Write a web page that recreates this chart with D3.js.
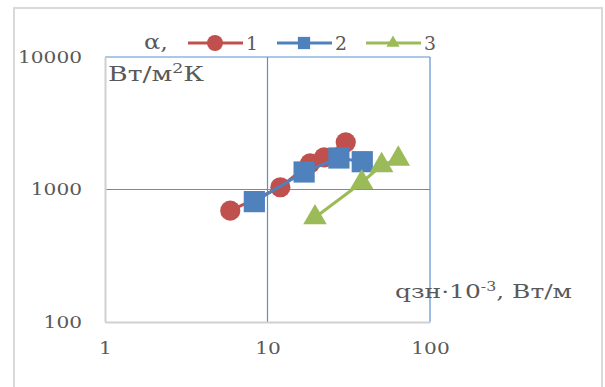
<!DOCTYPE html>
<html>
<head>
<meta charset="utf-8">
<script src="https://cdn.jsdelivr.net/npm/d3@7"></script>
<style>
  body { margin: 0; background: #fff; }
  text { font-family: "DejaVu Serif", "Liberation Serif", serif; }
</style>
</head>
<body>
<script>
// series values (x = qзн·10^-3, y = alpha)
const series1 = [[5.9, 692], [12.0, 1040], [18.3, 1577], [22.3, 1750], [30.3, 2270]];
const series2 = [[8.3, 810], [16.8, 1356], [27.5, 1729], [38.3, 1621]];
const series3 = [[19.6, 615], [38.0, 1130], [50.4, 1520], [63.8, 1700]];
const seriesNames = ["1", "2", "3"];
const xTicks = [1, 10, 100];
const yTicks = [100, 1000, 10000];

const width = 605;
const height = 387;
const margin = { top: 57, right: 175, bottom: 65, left: 105 };
const innerWidth = width - margin.left - margin.right;
const innerHeight = height - margin.top - margin.bottom;

const colors = ["#C0504D", "#4F81BD", "#9BBB59"];
const gridColor = "#5b8fd2";
const textColor = "#595959";
const symbols = [d3.symbolCircle, d3.symbolSquare, d3.symbolTriangle];
const symSizes = [320, 450, 240];
const legendSizes = [200, 150, 75];

const svg = d3.select("body")
    .append("svg")
    .attr("width", width)
    .attr("height", height);

// outer chart frame
svg.append("rect")
    .attr("x", 14).attr("y", 8)
    .attr("width", 588).attr("height", 400)
    .attr("fill", "none")
    .attr("stroke", "#d9d9d9")
    .attr("stroke-width", 2);

const g = svg.append("g")
    .attr("transform", `translate(${margin.left},${margin.top})`);

const xScale = d3.scaleLog().domain([1, 100]).range([0, innerWidth]);
const yScale = d3.scaleLog().domain([100, 10000]).range([innerHeight, 0]);

// gridlines
g.append("g")
    .selectAll("line")
    .data(xTicks.slice(1))
    .enter()
    .append("line")
    .attr("x1", d => xScale(d)).attr("x2", d => xScale(d))
    .attr("y1", 0).attr("y2", innerHeight)
    .attr("stroke", gridColor).attr("stroke-width", 1.2);

g.append("g")
    .selectAll("line")
    .data(yTicks.slice(1))
    .enter()
    .append("line")
    .attr("x1", 0).attr("x2", innerWidth)
    .attr("y1", d => yScale(d)).attr("y2", d => yScale(d))
    .attr("stroke", gridColor).attr("stroke-width", 1.2);

// axes
g.append("g")
    .attr("class", "x-axis")
    .attr("transform", `translate(0,${innerHeight})`)
    .call(d3.axisBottom(xScale).tickValues(xTicks).tickSize(0).tickPadding(21).tickFormat(d3.format("d")));

g.append("g")
    .attr("class", "y-axis")
    .call(d3.axisLeft(yScale).tickValues(yTicks).tickSize(0).tickPadding(23).tickFormat(d3.format("d")));

svg.selectAll(".x-axis path, .y-axis path")
    .attr("stroke", "#d0d0d0")
    .attr("stroke-width", 2);

svg.selectAll(".x-axis text, .y-axis text")
    .attr("font-family", "DejaVu Serif")
    .attr("font-size", 16)
    .attr("fill", textColor)
    .attr("textLength", function() { return this.textContent.length * 12.8; })
    .attr("lengthAdjust", "spacingAndGlyphs");

// series
const allSeries = [series1, series2, series3];
const line = d3.line()
    .x(d => xScale(d[0]))
    .y(d => yScale(d[1]));

allSeries.forEach((s, i) => {
    g.append("path")
        .datum(s)
        .attr("d", line)
        .attr("fill", "none")
        .attr("stroke", colors[i])
        .attr("stroke-width", 3);
    g.selectAll(".m" + i)
        .data(s)
        .enter()
        .append("path")
        .attr("class", "m" + i)
        .attr("transform", d => `translate(${xScale(d[0])},${yScale(d[1])})`)
        .attr("d", d3.symbol().type(symbols[i]).size(symSizes[i]))
        .attr("fill", colors[i]);
});

// axis titles
const yTitle = svg.append("text")
    .attr("x", 108).attr("y", 81)
    .attr("font-family", "DejaVu Serif")
    .attr("font-size", 20)
    .attr("fill", textColor)
    .attr("textLength", 96)
    .attr("lengthAdjust", "spacingAndGlyphs");
yTitle.append("tspan").text("Вт/м");
yTitle.append("tspan").attr("dy", -8).attr("font-size", 13).text("2");
yTitle.append("tspan").attr("dy", 8).text("К");

const xTitle = svg.append("text")
    .attr("x", 395).attr("y", 298)
    .attr("font-family", "DejaVu Serif")
    .attr("font-size", 19)
    .attr("fill", textColor)
    .attr("textLength", 177)
    .attr("lengthAdjust", "spacingAndGlyphs");
xTitle.append("tspan").text("qзн·10");
xTitle.append("tspan").attr("dy", -7).attr("font-size", 12).text("-3");
xTitle.append("tspan").attr("dy", 7).text(", Вт/м");

// legend
const legend = svg.append("g").attr("transform", "translate(0,43)");
legend.append("text")
    .attr("x", 144).attr("y", 6)
    .attr("font-family", "DejaVu Serif")
    .attr("font-size", 21)
    .attr("fill", textColor)
    .attr("textLength", 24)
    .attr("lengthAdjust", "spacingAndGlyphs")
    .text("α,");

const legendX = [188, 277, 366];
seriesNames.forEach((name, i) => {
    const lg = legend.append("g").attr("transform", `translate(${legendX[i]},0)`);
    lg.append("line")
        .attr("x1", 0).attr("x2", 55)
        .attr("stroke", colors[i]).attr("stroke-width", 3);
    lg.append("path")
        .attr("transform", "translate(27,0)")
        .attr("d", d3.symbol().type(symbols[i]).size(legendSizes[i]))
        .attr("fill", colors[i]);
    lg.append("text")
        .attr("x", 58).attr("y", 7)
        .attr("font-family", "DejaVu Serif")
        .attr("font-size", 19)
        .attr("fill", textColor)
        .attr("textLength", 12)
        .attr("lengthAdjust", "spacingAndGlyphs")
        .text(name);
});
</script>
</body>
</html>
